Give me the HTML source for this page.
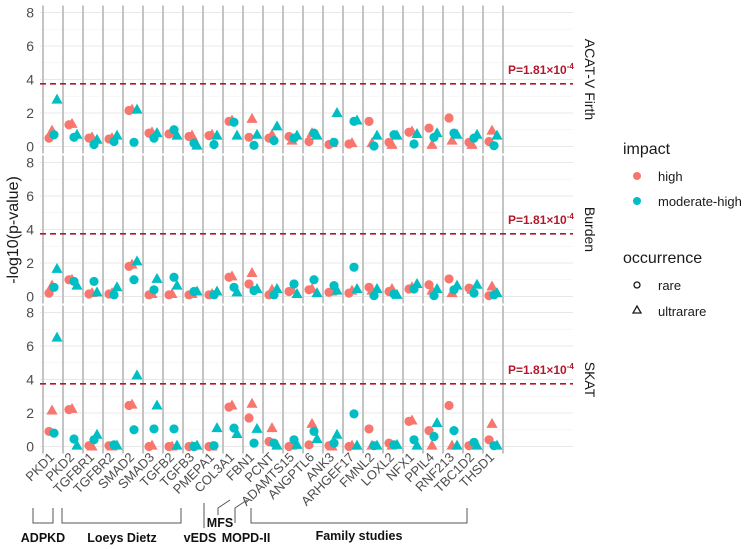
<!DOCTYPE html>
<html><head><meta charset="utf-8">
<style>
html,body{margin:0;padding:0;background:#fff;}
svg{display:block;font-family:"Liberation Sans",Arial,sans-serif;}
</style></head>
<body>
<svg id="chart" width="749" height="549" viewBox="0 0 749 549" xmlns="http://www.w3.org/2000/svg"></svg>
<script>
const genes = ["PKD1","PKD2","TGFBR1","TGFBR2","SMAD2","SMAD3","TGFB2","TGFB3","PMEPA1","COL3A1","FBN1","PCNT","ADAMTS15","ANGPTL6","ANK3","ARHGEF17","FMNL2","LOXL2","NFX1","PPIL4","RNF213","TBC1D2","THSD1"];
const panelNames = ["ACAT-V Firth","Burden","SKAT"];
const yTicks = [0,2,4,6,8];
const threshold = 3.74;
// ACAT-V Firth
const acatHighRare = [0.5,1.3,0.5,0.45,2.15,0.8,0.75,0.6,0.65,1.5,0.55,0.5,0.6,0.3,0.12,0.15,1.5,0.25,0.85,1.1,1.7,0.25,0.3];
const acatHighUltra = [0.95,1.35,0.55,0.5,2.2,0.85,0.8,0.65,0.7,1.55,1.65,0.7,0.35,0.8,0.2,0.2,0.2,0.1,0.9,0.1,0.35,0.1,0.95];
const acatModRare = [0.7,0.55,0.12,0.3,0.25,0.5,1.0,0.2,0.12,1.45,0.07,0.35,0.5,0.8,0.25,1.5,0.03,0.7,0.15,0.55,0.8,0.5,0.05];
const acatModUltra = [2.8,0.7,0.4,0.65,2.2,0.8,0.65,0.05,0.65,0.65,0.7,1.2,0.65,0.65,2.0,1.55,0.65,0.65,0.75,0.8,0.7,0.7,0.65];
// Burden
const burdenHighRare = [0.2,1.0,0.15,0.15,1.8,0.1,0.1,0.1,0.1,1.15,0.75,0.1,0.3,0.4,0.25,0.2,0.55,0.3,0.45,0.7,1.05,0.5,0.05];
const burdenHighUltra = [0.65,1.0,0.2,0.2,1.9,0.15,0.15,0.15,0.15,1.2,1.4,0.4,0.4,0.45,0.3,0.35,0.35,0.45,0.55,0.35,0.2,0.4,0.6];
const burdenModRare = [0.55,0.9,0.9,0.1,1.0,0.4,1.15,0.3,0.1,0.55,0.35,0.1,0.75,1.0,0.65,1.75,0.05,0.15,0.45,0.05,0.4,0.2,0.1];
const burdenModUltra = [1.65,0.65,0.25,0.55,2.1,1.05,0.65,0.3,0.3,0.25,0.45,0.45,0.15,0.2,0.35,0.45,0.45,0.1,0.75,0.45,0.65,0.7,0.2];
// SKAT
const skatHighRare = [0.9,2.2,0.05,0.05,2.45,0.0,0.0,0.0,0.0,2.35,1.7,0.3,0.0,0.1,0.05,0.0,1.05,0.2,1.5,0.95,2.45,0.05,0.4];
const skatHighUltra = [2.15,2.25,0.0,0.0,2.5,0.05,0.0,0.0,0.0,2.45,2.55,1.1,0.05,1.35,0.0,0.05,0.05,0.05,1.55,0.05,0.05,0.1,1.35];
const skatModRare = [0.8,0.45,0.4,0.1,1.0,1.05,1.05,0.0,0.05,1.1,0.2,0.2,0.4,0.9,0.2,1.95,0.05,0.1,0.4,0.6,0.95,0.25,0.05];
const skatModUltra = [6.5,0.05,0.7,0.05,4.25,2.45,0.05,0.05,1.1,0.75,1.05,0.05,0.1,0.45,0.7,0.05,0.05,0.1,0.05,1.4,0.05,0.05,0.05];

const panelSeries = [
  [acatHighRare,acatHighUltra,acatModRare,acatModUltra],
  [burdenHighRare,burdenHighUltra,burdenModRare,burdenModUltra],
  [skatHighRare,skatHighUltra,skatModRare,skatModUltra]
];
const groupImpact = ["high","high","moderate-high","moderate-high"];
const groupShape = ["circle","triangle","circle","triangle"];
const groupDodge = [-0.2,-0.05,0.05,0.2];

const NS="http://www.w3.org/2000/svg";
const svg=document.getElementById('chart');
function mk(tag,attrs,parent){const e=document.createElementNS(NS,tag);for(const k in attrs)e.setAttribute(k,attrs[k]);(parent||svg).appendChild(e);return e;}
const colors={"high":"#F8766D","moderate-high":"#00BFC4"};
const plotL=40, plotR=573;
const zeroY=[146.5,296.5,446.5];
const unit=16.75;
function xScale(i){return 53+i*20;}
function yScale(p,v){return zeroY[p]-v*unit;}

for(let p=0;p<3;p++){
  const g=mk('g',{});
  
  
  const top=yScale(p,8)-7, bot=zeroY[p]+7;
  for(let v=1;v<8;v+=2){mk('line',{x1:plotL,x2:plotR,y1:yScale(p,v),y2:yScale(p,v),stroke:'#f3f3f3','stroke-width':0.7},g);}
  yTicks.forEach(v=>{
    const l=mk('line',{x1:plotL,x2:plotR,y1:yScale(p,v),y2:yScale(p,v),stroke:'#e8e8e8','stroke-width':1.1},g);
    
    
    const t=mk('text',{x:34,y:yScale(p,v)+5,'text-anchor':'end','font-size':14,fill:'#4d4d4d'},g);
    t.textContent=v;
    
    
  });
  for(let i=0;i<=genes.length;i++){
    const x=xScale(i)-10;
    const l=mk('line',{x1:x,x2:x,y1:top,y2:bot,stroke:'#c4c4c4','stroke-width':2},g);
    
    
  }
  const th=mk('line',{x1:plotL,x2:plotR,y1:yScale(p,threshold),y2:yScale(p,threshold),stroke:'#b2182b','stroke-width':1.6,'stroke-dasharray':'6,4'},g);
  
  
  const pl=mk('text',{x:508,y:yScale(p,threshold)-10,'font-size':12,'font-weight':'bold',fill:'#b2182b'},g);
  pl.innerHTML='P=1.81×10<tspan font-size="8" dy="-5">-4</tspan>';
  
  
  const cy=(top+bot)/2;
  const st=mk('text',{x:585,y:cy,'text-anchor':'middle','font-size':14,fill:'#1a1a1a',transform:`rotate(90 585 ${cy})`},g);
  st.textContent=panelNames[p];
  
  
  for(let s=0;s<4;s++){
    const vals=panelSeries[p][s];
    vals.forEach((v,i)=>{
      const x=xScale(i+groupDodge[s]), y=yScale(p,v), c=colors[groupImpact[s]];
      let m;
      if(groupShape[s]==='circle'){m=mk('circle',{cx:x,cy:y,r:4.6,fill:c},g);}
      else{m=mk('polygon',{points:`${x},${y-6} ${x-5.6},${y+4} ${x+5.6},${y+4}`,fill:c},g);}
      
      
    });
  }
}
// x labels
genes.forEach((gname,i)=>{
  const x=xScale(i)+2, y=458;
  const t=mk('text',{x:x,y:y,'text-anchor':'end','font-size':13,fill:'#4d4d4d',transform:`rotate(-45 ${x} ${y})`});
  t.textContent=gname;
  
  
});
// y title
const yt=mk('text',{x:18,y:230,'text-anchor':'middle','font-size':16,fill:'#1a1a1a',transform:'rotate(-90 18 230)'});
yt.textContent='-log10(p-value)';


</script>
<svg style="position:absolute;left:0;top:0" width="749" height="549">
<g stroke="#555" stroke-width="1" fill="none">
<path d="M33,508V523H53V508"/>
<path d="M62,508V523H181V508"/>
<path d="M204,503V528"/>
<path d="M230,500L218,508V515"/>
<path d="M247,500L235,508V523"/>
<path d="M251,508V523H467V508"/>
</g>
<g font-family="Liberation Sans, Arial, sans-serif" font-weight="bold" font-size="12.5" fill="#111" text-anchor="middle">
<text x="43" y="542">ADPKD</text>
<text x="122" y="542">Loeys Dietz</text>
<text x="200" y="542">vEDS</text>
<text x="220" y="527">MFS</text>
<text x="246" y="542">MOPD-II</text>
<text x="359" y="540">Family studies</text>
</g>
<g font-family="Liberation Sans, Arial, sans-serif" fill="#1a1a1a">
<text x="623" y="154" font-size="16">impact</text>
<circle cx="637" cy="176" r="4" fill="#F8766D"/>
<text x="658" y="181" font-size="13">high</text>
<circle cx="637" cy="201" r="4" fill="#00BFC4"/>
<text x="658" y="206" font-size="13">moderate-high</text>
<text x="623" y="263" font-size="16">occurrence</text>
<circle cx="637" cy="285" r="3" fill="none" stroke="#1a1a1a" stroke-width="1.3"/>
<text x="658" y="290" font-size="13">rare</text>
<polygon points="637,306 633,313 641,313" fill="none" stroke="#1a1a1a" stroke-width="1.3"/>
<text x="658" y="316" font-size="13">ultrarare</text>
</g>
</svg>
</body></html>
